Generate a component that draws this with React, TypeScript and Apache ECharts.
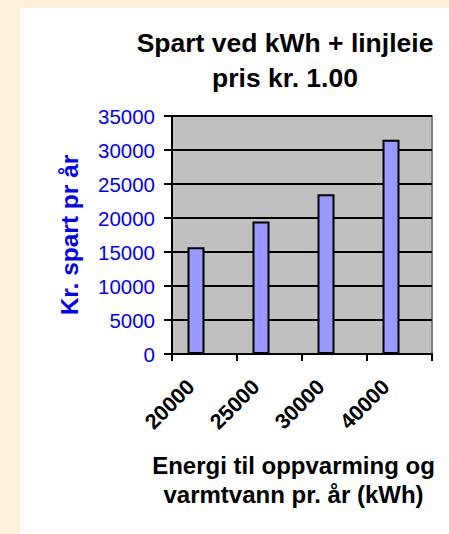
import React, { useEffect, useRef } from "react";
import * as echarts from "echarts";

const categories = ["20000", "25000", "30000", "40000"];
const savedValues = [15700, 19500, 23500, 31500];
const emptySeries = [null, null, null, null];
const yMin = 0;
const yMax = 35000;
const yStep = 5000;

const titleText = "Spart ved kWh + linjleie\npris kr. 1.00";
const xName = "Energi til oppvarming og\nvarmtvann pr. år (kWh)";
const yName = "Kr. spart pr år";

const FONT = "'Liberation Sans', Arial, Helvetica, sans-serif";

export default function App() {
  const ref = useRef<HTMLDivElement>(null);

  useEffect(() => {
    document.body.style.margin = "0";
    const chart = echarts.init(ref.current!, null, { renderer: "svg" });
    chart.setOption({
      animation: false,
      backgroundColor: "transparent",
      graphic: [
        {
          type: "text",
          x: 285,
          y: 26,
          style: {
            text: titleText,
            fill: "#000000",
            fontFamily: FONT,
            fontSize: 26.5,
            fontWeight: "bold",
            textAlign: "center",
            textVerticalAlign: "top",
            lineHeight: 34.5,
          },
        },
      ],
      grid: {
        left: 172,
        top: 116,
        right: 17,
        bottom: 180,
        containLabel: false,
        outerBoundsMode: "none",
        show: true,
        backgroundColor: "#C0C0C0",
        borderColor: "#808080",
        borderWidth: 2,
      },
      xAxis: {
        type: "category",
        data: categories,
        boundaryGap: true,
        name: xName,
        nameLocation: "middle",
        nameGap: 97,
        nameTextStyle: {
          color: "#000000",
          fontFamily: FONT,
          fontSize: 24,
          fontWeight: "bold",
          lineHeight: 29,
          padding: [0, 17, 0, 0],
        },
        axisLine: { show: true, lineStyle: { color: "#000000", width: 2 } },
        axisTick: {
          show: true,
          alignWithLabel: false,
          length: 7,
          lineStyle: { color: "#000000", width: 2 },
        },
        axisLabel: {
          rotate: 45,
          margin: 16,
          color: "#000000",
          fontFamily: FONT,
          fontSize: 21.5,
          fontWeight: "bold",
          padding: [0, 19, 0, 0],
        },
        splitLine: { show: false },
      },
      yAxis: {
        type: "value",
        min: yMin,
        max: yMax,
        interval: yStep,
        name: yName,
        nameLocation: "middle",
        nameGap: 90,
        nameRotate: 90,
        nameTextStyle: {
          color: "#0000FF",
          fontFamily: FONT,
          fontSize: 24.5,
          fontWeight: "bold",
        },
        axisLine: { show: true, lineStyle: { color: "#000000", width: 2 } },
        axisTick: {
          show: true,
          inside: false,
          length: 8,
          lineStyle: { color: "#000000", width: 2 },
        },
        axisLabel: {
          margin: 17,
          color: "#0000FF",
          fontFamily: FONT,
          fontSize: 20.5,
          formatter: (v: number) => String(v),
        },
        splitLine: { show: true, lineStyle: { color: "#000000", width: 2 } },
      },
      series: [
        {
          name: "Spart",
          type: "bar",
          data: savedValues,
          barWidth: 17,
          barGap: "0%",
          itemStyle: { color: "#9999FF", borderColor: "#000000", borderWidth: 2 },
        },
        {
          name: "tom",
          type: "bar",
          data: emptySeries,
          barWidth: 17,
          barGap: "0%",
          itemStyle: { color: "#9999FF", borderColor: "#000000", borderWidth: 2 },
        },
      ],
    });
    return () => chart.dispose();
  }, []);

  return (
    <div style={{ position: "absolute", left: 0, top: 0, width: 449, height: 534, background: "#FEF0D9", overflow: "hidden" }}>
      <div style={{ position: "absolute", left: 20, top: 8, width: 429, height: 526, background: "#FFFFFF" }} />
      <div ref={ref} style={{ position: "absolute", left: 0, top: 0, width: 449, height: 534 }} />
    </div>
  );
}
